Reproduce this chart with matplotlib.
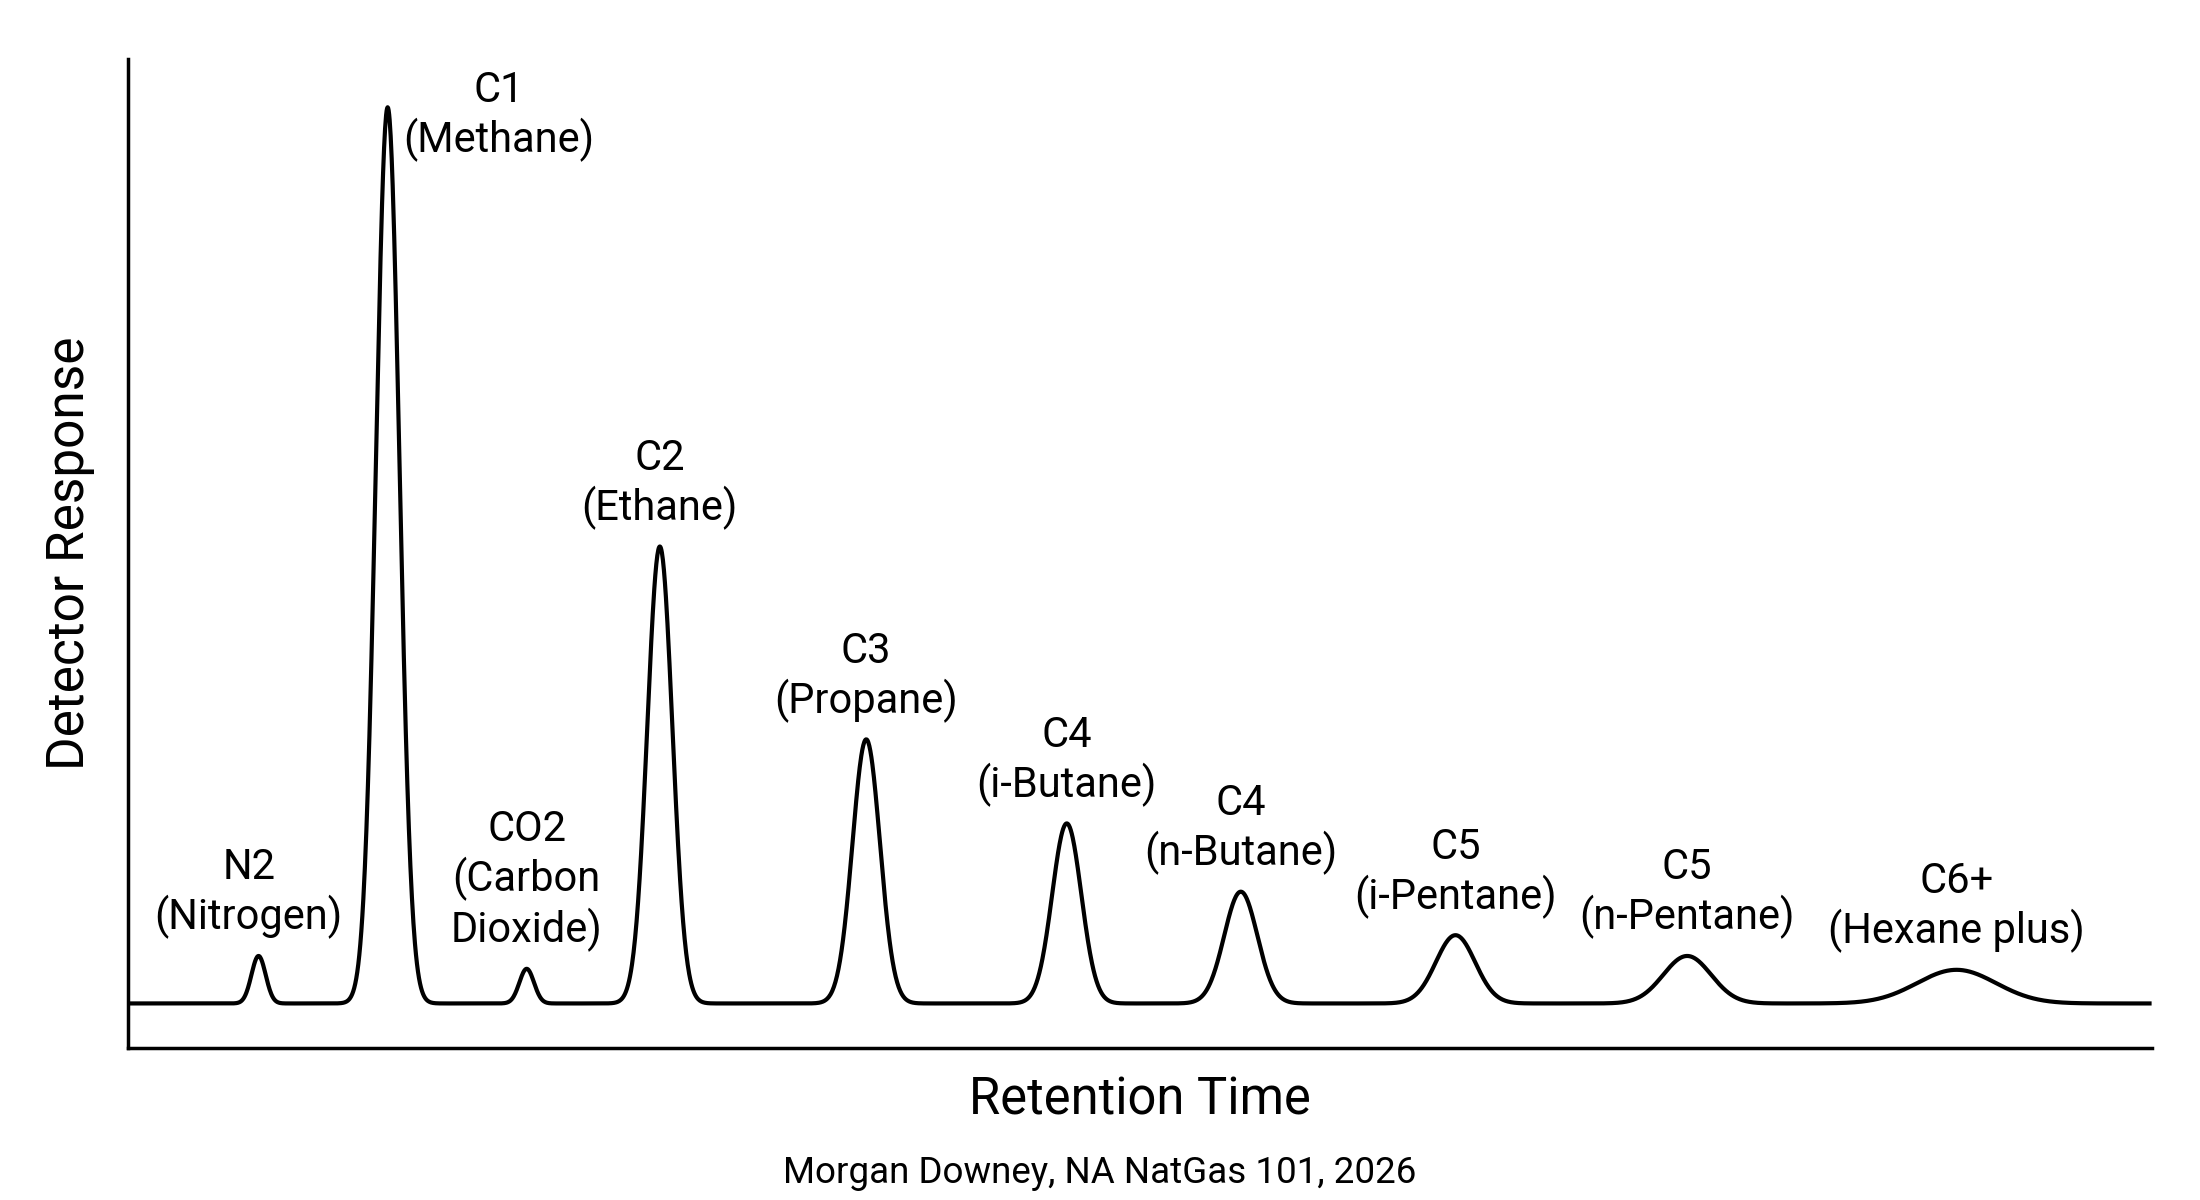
import matplotlib.pyplot as plt
import numpy as np

plt.rcParams['font.family'] = ['Roboto', 'DejaVu Sans']

# Peak table (retention in axis units 0-100, height in % of axis)
labels = ['N2\n(Nitrogen)', 'C1\n(Methane)', 'CO2\n(Carbon\nDioxide)', 'C2\n(Ethane)',
          'C3\n(Propane)', 'C4\n(i-Butane)', 'C4\n(n-Butane)', 'C5\n(i-Pentane)',
          'C5\n(n-Pentane)', 'C6+\n(Hexane plus)']
retention = [6.45, 12.83, 19.7, 26.28, 36.48, 46.39, 54.99, 65.6, 77.05, 90.36]
height = [4.8, 90.6, 3.5, 46.2, 26.7, 18.2, 11.3, 6.9, 4.8, 3.4]
width = [0.35, 0.58, 0.36, 0.62, 0.68, 0.72, 0.82, 0.97, 1.18, 1.95]
baseline = 4.5

# Build detector signal as sum of gaussian peaks
t = np.linspace(0, 100, 4000)
signal = np.full_like(t, baseline)
for r, h, w in zip(retention, height, width):
    signal += h * np.exp(-0.5 * ((t - r) / w) ** 2)

fig = plt.figure(figsize=(22, 12), dpi=100)
ax = fig.add_axes([0.0582, 0.1267, 0.9198, 0.8243])
ax.plot(t, signal, color='black', lw=3.0, solid_capstyle='butt')

ax.set_xlim(0, 100)
ax.set_ylim(0, 100)
for s in ['top', 'right']:
    ax.spines[s].set_visible(False)
for s in ['left', 'bottom']:
    ax.spines[s].set_linewidth(2.5)
ax.set_xticks([])
ax.set_yticks([])

# Peak labels (C1 sits beside its peak, N2 nudged left)
for i, (lab, r, h) in enumerate(zip(labels, retention, height)):
    if i == 1:
        ax.annotate(lab, (r, baseline + h), xytext=(80, -6), textcoords='offset points',
                    ha='center', va='center', fontsize=30, linespacing=1.2)
    else:
        dx = -7 if i == 0 else 0
        ax.annotate(lab, (r, baseline + h), xytext=(dx, 12), textcoords='offset points',
                    ha='center', va='bottom', fontsize=30, linespacing=1.2)

ax.set_xlabel('Retention Time', fontsize=36.5, labelpad=20)
ax.set_ylabel('Detector Response', fontsize=37, labelpad=24)

fig.text(0.5, 0.0225, 'Morgan Downey, NA NatGas 101, 2026', ha='center', va='center', fontsize=26.5)

plt.savefig('out.png', dpi=100, facecolor='white')
